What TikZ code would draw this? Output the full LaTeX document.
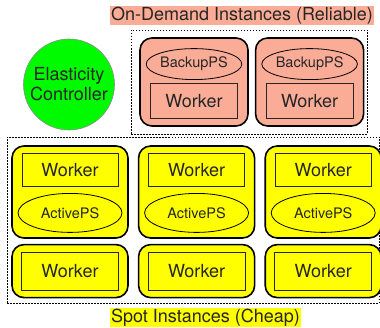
\documentclass[tikz,border=0pt]{standalone}
\usepackage{fontspec}
\setmainfont{TeX Gyre Heros}
\usetikzlibrary{positioning, shapes.geometric}
\definecolor{peach}{RGB}{250,172,150}
\definecolor{spotyellow}{RGB}{255,255,0}
\definecolor{ctrlgreen}{RGB}{0,250,0}
\tikzset{
x=1pt, y=1pt, % one unit is one point
every node/.style={font=\fontsize{18}{20}\selectfont, text=black!85},
group/.style={draw, line width=0.8pt, dash pattern=on 1.5pt off 1.5pt}, % dotted pools of instances
instance/.style={draw, line width=1.6pt, rounded corners=12pt, inner sep=0pt}, % one machine
odbox/.style={instance, fill=peach, minimum width=108, minimum height=88},
spottop/.style={instance, fill=spotyellow, minimum width=116, minimum height=92},
spotbottom/.style={instance, fill=spotyellow, minimum width=116, minimum height=53},
workerbox/.style={draw, line width=0.9pt, draw=black!85, inner sep=0pt}, % worker process
ps/.style={ellipse, draw, line width=0.8pt, inner sep=0pt, font=\fontsize{14.5}{16}\selectfont}, % parameter server
tag/.style={inner xsep=1pt, inner ysep=0pt, text height=14pt, text depth=5pt}, % highlighted caption
}
\begin{document}
\begin{tikzpicture}
\useasboundingbox (0,0) rectangle (380,327);

% controller
\node[circle, draw=black!45, line width=0.6pt, fill=ctrlgreen, minimum size=91, inner sep=0pt, align=center] (ctrl) at (69,242.5) {Elasticity\\Controller};

% on-demand pool
\node[tag, fill=peach] (odlabel) at (242,311) {On-Demand Instances (Reliable)};
\node[group, minimum width=236, minimum height=104] (odpool) at (249,245) {};
\node[odbox] (od1) at (194,245) {};
\node[odbox, right=6pt of od1] (od2) {};
\node[ps, minimum width=94, minimum height=31, below=11pt of od1.north] (bps1) {BackupPS};
\node[ps, minimum width=94, minimum height=31, below=11pt of od2.north] (bps2) {BackupPS};
\node[workerbox, minimum width=87, minimum height=35, above=8pt of od1.south] (odw1) {Worker};
\node[workerbox, minimum width=87, minimum height=35, above=8pt of od2.south] (odw2) {Worker};

% spot pool
\node[group, minimum width=372, minimum height=166] (spotpool) at (193,107) {};
\node[tag, fill=spotyellow] (spotlabel) at (205.5,9.5) {Spot Instances (Cheap)};
\node[spottop] (st1) at (70,135) {};
\node[spottop, right=9pt of st1] (st2) {};
\node[spottop, right=9pt of st2] (st3) {};
\node[spotbottom, below=5pt of st1] (sb1) {};
\node[spotbottom, below=5pt of st2] (sb2) {};
\node[spotbottom, below=5pt of st3] (sb3) {};

\node[workerbox, minimum width=96, minimum height=33, below=8pt of st1.north] (sw1) {Worker};
\node[workerbox, minimum width=96, minimum height=33, below=8pt of st2.north] (sw2) {Worker};
\node[workerbox, minimum width=96, minimum height=33, below=8pt of st3.north] (sw3) {Worker};
\node[ps, minimum width=104, minimum height=39, above=6pt of st1.south] (aps1) {ActivePS};
\node[ps, minimum width=104, minimum height=39, above=6pt of st2.south] (aps2) {ActivePS};
\node[ps, minimum width=104, minimum height=39, above=6pt of st3.south] (aps3) {ActivePS};
\node[workerbox, minimum width=97, minimum height=38] (bw1) at (sb1) {Worker};
\node[workerbox, minimum width=97, minimum height=38] (bw2) at (sb2) {Worker};
\node[workerbox, minimum width=97, minimum height=38] (bw3) at (sb3) {Worker};
\end{tikzpicture}
\end{document}
